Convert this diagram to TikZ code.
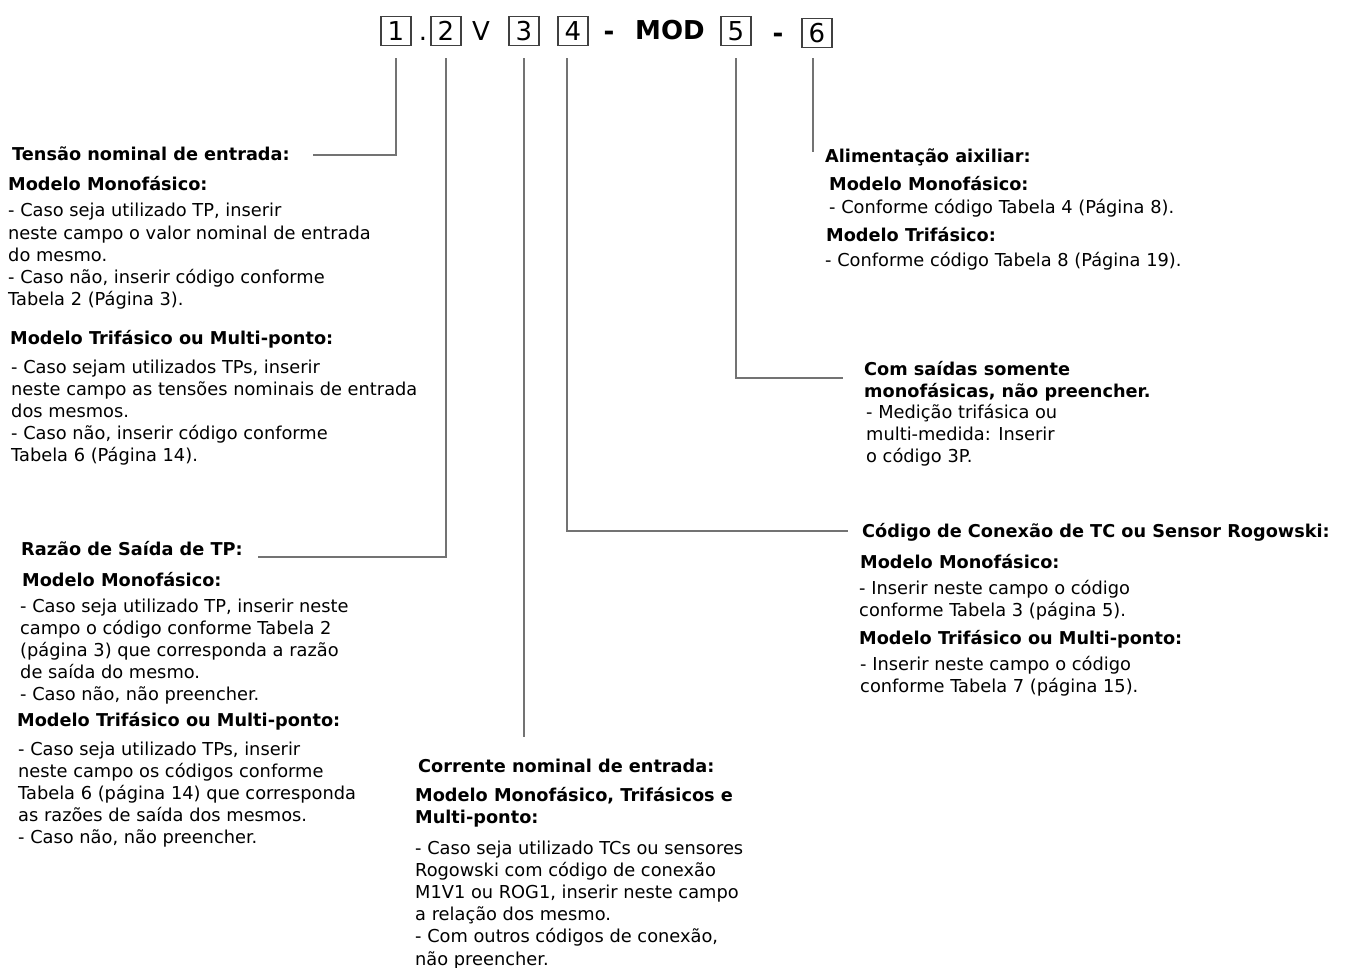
\documentclass[tikz,border=0pt]{standalone}
\usepackage{fontspec}
\setmainfont{DejaVu Sans}
\usetikzlibrary{positioning,calc}

\begin{document}
\begin{tikzpicture}[x=1pt, y=-1pt, every node/.style={inner sep=0pt}, codebox/.style={draw=black!75, line width=1.2pt, minimum width=30pt, minimum height=29pt, font=\fontsize{26}{26}\selectfont}, codetext/.style={anchor=base, font=\fontsize{26}{26}\selectfont}, head/.style={anchor=base west, align=left, font=\bfseries\fontsize{17.7}{22}\selectfont}, body/.style={anchor=base west, align=left, font=\fontsize{17.8}{22.2}\selectfont}, link/.style={draw=black!55, line width=1.4pt, shorten <=12pt}]
\useasboundingbox[fill=white] (0,0) rectangle (1346,968);
\node[codebox] (b1) at (396,31) {1};
\node[codetext] (dot) at (423,41) {.};
\node[codebox] (b2) at (446,31) {2};
\node[codetext] (volt) at (481,41) {V};
\node[codebox] (b3) at (524,31) {3};
\node[codebox] (b4) at (573,31) {4};
\node[codetext, font=\bfseries\fontsize{26}{26}\selectfont] (dash1) at (609,41) {-};
\node[codetext, font=\bfseries\fontsize{26}{26}\selectfont] (mod) at (670,40) {MOD};
\node[codebox] (b5) at (736,31) {5};
\node[codetext, font=\bfseries\fontsize{26}{26}\selectfont] (dash2) at (778,43) {-};
\node[codebox] (b6) at (817,33) {6};
\node[head] (tensao) at (12,161) {Tensão nominal de entrada:};
\node[head] (tensaoMono) at (8,191) {Modelo Monofásico:};
\node[body] (tensaoMonoTxt) at (8,305.8) {- Caso seja utilizado TP, inserir\\neste campo o valor nominal de entrada\\do mesmo.\\- Caso não, inserir código conforme\\Tabela 2 (Página 3).};
\node[head] (tensaoTri) at (10,344) {Modelo Trifásico ou Multi-ponto:};
\node[body] (tensaoTriTxt) at (11,461.8) {- Caso sejam utilizados TPs, inserir\\neste campo as tensões nominais de entrada\\dos mesmos.\\- Caso não, inserir código conforme\\Tabela 6 (Página 14).};
\node[head] (razao) at (21,555) {Razão de Saída de TP:};
\node[head] (razaoMono) at (22,586) {Modelo Monofásico:};
\node[body] (razaoMonoTxt) at (20,700.8) {- Caso seja utilizado TP, inserir neste\\campo o código conforme Tabela 2\\(página 3) que corresponda a razão\\de saída do mesmo.\\- Caso não, não preencher.};
\node[head] (razaoTri) at (17,726) {Modelo Trifásico ou Multi-ponto:};
\node[body] (razaoTriTxt) at (18,843.8) {- Caso seja utilizado TPs, inserir\\neste campo os códigos conforme\\Tabela 6 (página 14) que corresponda\\as razões de saída dos mesmos.\\- Caso não, não preencher.};
\node[head] (corrente) at (418,772) {Corrente nominal de entrada:};
\node[head] (correnteMod) at (415,823) {Modelo Monofásico, Trifásicos e\\Multi-ponto:};
\node[body] (correnteTxt) at (415,965) {- Caso seja utilizado TCs ou sensores\\Rogowski com código de conexão\\M1V1 ou ROG1, inserir neste campo\\a relação dos mesmo.\\- Com outros códigos de conexão,\\não preencher.};
\node[head] (alim) at (825,163) {Alimentação aixiliar:};
\node[head] (alimMono) at (829,191) {Modelo Monofásico:};
\node[body] (alimMonoTxt) at (829,214) {- Conforme código Tabela 4 (Página 8).};
\node[head] (alimTri) at (826,242) {Modelo Trifásico:};
\node[body] (alimTriTxt) at (825,266) {- Conforme código Tabela 8 (Página 19).};
\node[head] (saidas) at (864,397) {Com saídas somente\\monofásicas, não preencher.};
\node[body] (saidasTxt) at (866,462.4) {- Medição trifásica ou\\multi-medida: Inserir\\o código 3P.};
\node[head] (conexao) at (862,537) {Código de Conexão de TC ou Sensor Rogowski:};
\node[head] (conexaoMono) at (860,568) {Modelo Monofásico:};
\node[body] (conexaoMonoTxt) at (859,616.2) {- Inserir neste campo o código\\conforme Tabela 3 (página 5).};
\node[head] (conexaoTri) at (859,644) {Modelo Trifásico ou Multi-ponto:};
\node[body] (conexaoTriTxt) at (860,692.2) {- Inserir neste campo o código\\conforme Tabela 7 (página 15).};
\coordinate (e1) at (313,155);
\coordinate (e2) at (258,557);
\coordinate (e3) at (524,737);
\coordinate (e4) at (848,531);
\coordinate (e5) at (843,378);
\coordinate (e6) at (813,152);
\draw[link] (b1.south) |- (e1);
\draw[link] (b2.south) |- (e2);
\draw[link] (b3.south) -- (e3);
\draw[link] ([xshift=-6pt]b4.south) |- (e4);
\draw[link] (b5.south) |- (e5);
\draw[link, shorten <=10pt] ([xshift=-4pt]b6.south) -- (e6);
\end{tikzpicture}
\end{document}
